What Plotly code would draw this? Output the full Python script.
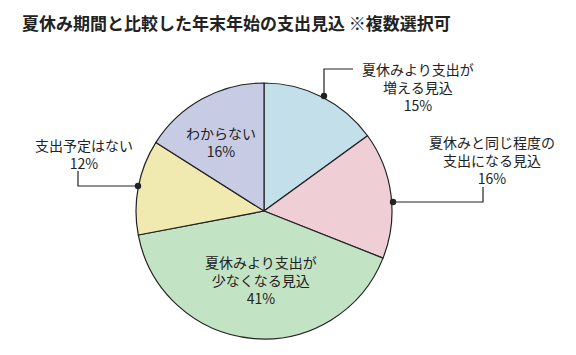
import plotly.graph_objects as go

W, H = 576, 355

labels = ["夏休みより支出が<br>増える見込", "夏休みと同じ程度の<br>支出になる見込",
          "夏休みより支出が<br>少なくなる見込", "支出予定はない", "わからない"]
values = [15, 16, 41, 12, 16]
colors = ["#c3dfea", "#efcfd5", "#c3e3c5", "#f0eab0", "#c8cbe4"]

title = "夏休み期間と比較した年末年始の支出見込 ※複数選択可"

FONT = "Noto Sans CJK JP"

cx, cy, r = 264, 211, 128

def px(x):
    return x / W

def py(y):
    return 1 - y / H

fig = go.Figure(go.Pie(
    labels=labels, values=values, sort=False, direction="clockwise", rotation=0,
    marker=dict(colors=colors, line=dict(color="#222222", width=1.2)),
    textinfo="none", hoverinfo="skip", showlegend=False,
    domain=dict(x=[px(cx - r), px(cx + r)], y=[py(cy + r), py(cy - r)]),
))

# label text placements (pixel coords of text centers)
text_pos = [(418, 87), (492, 160), (261, 280), (84, 154), (221, 142)]
annotations = []
for lab, val, (tx, ty) in zip(labels, values, text_pos):
    annotations.append(dict(
        x=px(tx), y=py(ty), xref="paper", yref="paper", showarrow=False,
        text=f"{lab}<br>{val}%", align="center",
        font=dict(family=FONT, size=14, color="#222222"),
        xanchor="center", yanchor="middle",
    ))
annotations.append(dict(
    x=px(20), y=py(22), xref="paper", yref="paper", showarrow=False,
    text=f"<b>{title}</b>", xanchor="left", yanchor="middle",
    font=dict(family=FONT, size=17, color="#222222"),
))

# leader lines
leaders = [
    [(324, 96), (324, 69), (353, 69)],
    [(393, 202), (483, 202), (483, 187)],
    [(138, 186), (78, 186), (78, 171)],
]
shapes = []
for pts in leaders:
    path = "M " + " L ".join(f"{px(x)},{py(y)}" for x, y in pts)
    shapes.append(dict(type="path", path=path, xref="paper", yref="paper",
                       line=dict(color="#222222", width=1.2)))
    x0, y0 = pts[0]
    d = 3.2
    shapes.append(dict(type="circle", xref="paper", yref="paper",
                       x0=px(x0 - d), x1=px(x0 + d), y0=py(y0 + d), y1=py(y0 - d),
                       fillcolor="#222222", line=dict(width=0)))

fig.update_layout(
    width=W, height=H, margin=dict(l=0, r=0, t=0, b=0),
    paper_bgcolor="white", plot_bgcolor="white",
    annotations=annotations, shapes=shapes,
    font=dict(family=FONT),
)

fig.write_html("out.html")
